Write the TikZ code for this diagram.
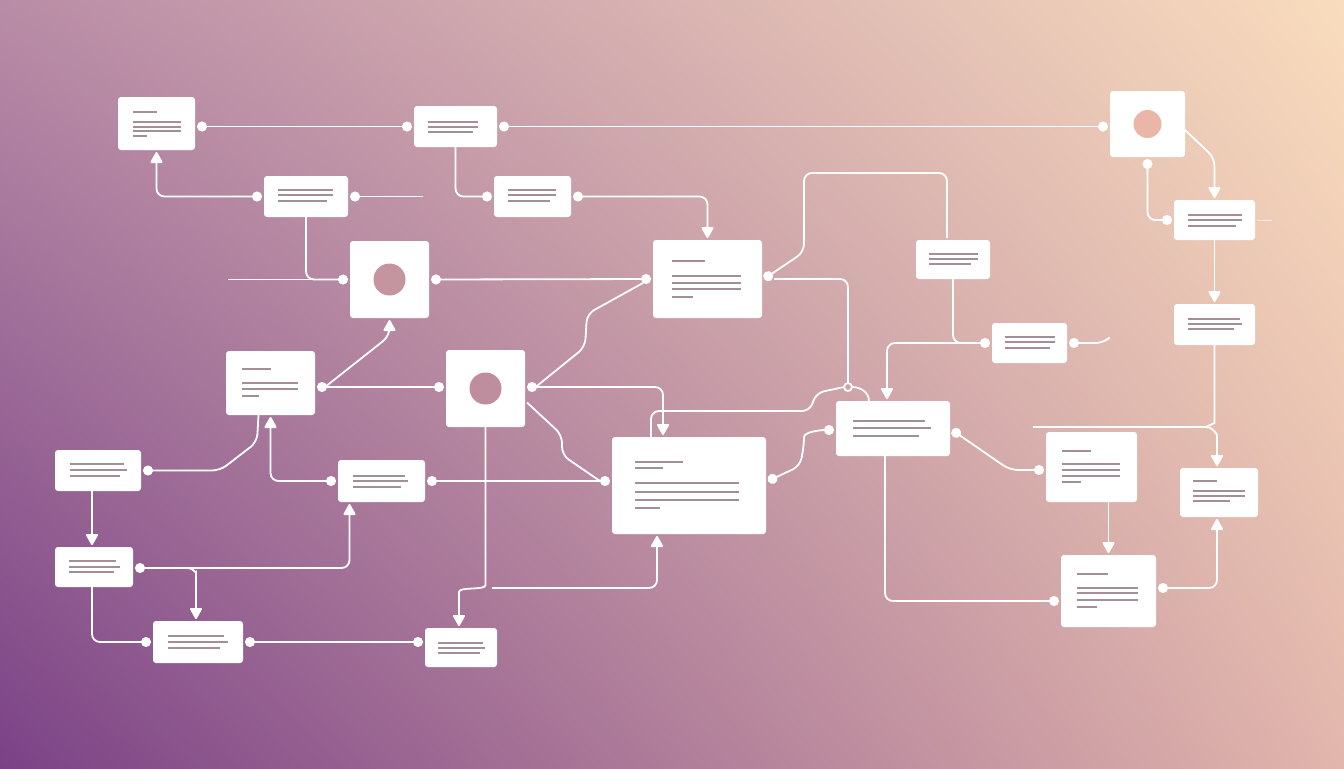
\documentclass[tikz,border=0pt]{standalone}
\usetikzlibrary{arrows.meta,calc,shadings}
\definecolor{bgUL}{HTML}{B98CA6}
\definecolor{bgUR}{HTML}{F9DCBD}
\definecolor{bgLL}{HTML}{7A4286}
\definecolor{bgLR}{HTML}{E2B6AC}
\definecolor{txl}{HTML}{A48F98}
\definecolor{holeE}{HTML}{C4949F}
\definecolor{holeM}{HTML}{BF8E9E}
\definecolor{holeG}{HTML}{E9B6A7}
\tikzset{
  box/.style={fill=white, draw=none, rounded corners=1.5pt, inner sep=0pt, outer sep=0pt},
  tl/.style={txl, line width=1pt},
  con/.style={white, line width=0.9pt, rounded corners=4pt},
  faint/.style={white, opacity=0.6, line width=0.5pt},
  dd/.style={{Circle[length=5pt]}-{Circle[length=5pt]}},
  ds/.style={{Circle[length=5pt]}-},
  de/.style={-{Circle[length=5pt]}},
  da/.style={{Circle[length=5pt]}-{Triangle[length=6pt,width=6.5pt,round]}},
  ea/.style={-{Triangle[length=6pt,width=6.5pt,round]}},
}
\newcommand\bx[5]{\node[box, minimum width={(#4-#2)*0.5pt}, minimum height={(#5-#3)*0.5pt}] (#1) at ({(#2+#4)/2},{(#3+#5)/2}) {};}
\newcommand\tln[3]{\draw[tl] (#1,#3) -- (#2,#3);}
\begin{document}
\begin{tikzpicture}[x=0.5pt,y=-0.5pt]
\useasboundingbox (0,0) rectangle (1344,768);
\shade[upper left=bgUL, upper right=bgUR, lower left=bgLL, lower right=bgLR] (0,0) rectangle (1344,768);

% ---------- boxes ----------
\bx{A}{118}{97}{195}{150}
\bx{B}{414}{106}{497}{147}
\bx{C}{264}{176}{348}{217}
\bx{D}{494}{176}{571}{217}
\bx{E}{350}{241}{429}{318}
\bx{F}{653}{240}{762}{318}
\bx{G}{1110}{91}{1185}{157}
\bx{H}{1174}{200}{1255}{240}
\bx{I}{916}{240}{990}{279}
\bx{J}{992}{323}{1067}{363}
\bx{K}{1174}{304}{1255}{345}
\bx{L}{226}{351}{315}{415}
\bx{M}{446}{350}{525}{427}
\bx{N}{836}{401}{950}{456}
\bx{O}{55}{450}{141}{491}
\bx{P}{338}{460}{425}{502}
\bx{Q}{612}{437}{766}{534}
\bx{R}{1046}{432}{1137}{502}
\bx{S}{1180}{468}{1258}{517}
\bx{T}{55}{547}{133}{587}
\bx{U}{153}{621}{243}{663}
\bx{V}{425}{628}{497}{667}
\bx{W}{1061}{555}{1156}{627}

% holes of the circle boxes
\fill[holeE] (E.center) circle (8pt);
\fill[holeM] (M.center) circle (8pt);
\fill[holeG] (G.center) circle (7pt);

% ---------- text placeholder lines ----------
\tln{133}{157}{112}\tln{133}{181}{122}\tln{133}{181}{127}\tln{133}{181}{131}\tln{133}{147}{136}
\tln{428}{478}{122}\tln{428}{478}{127}\tln{428}{473}{132}
\tln{278}{333}{190}\tln{278}{333}{195}\tln{278}{327}{201}
\tln{508}{556}{190}\tln{508}{556}{195}\tln{508}{550}{201}
\tln{672}{705}{261}\tln{672}{741}{276}\tln{672}{741}{283}\tln{672}{741}{289}\tln{672}{693}{297}
\tln{929}{978}{254}\tln{929}{978}{259}\tln{929}{971}{264}
\tln{1005}{1055}{337}\tln{1005}{1055}{342}\tln{1005}{1050}{348}
\tln{1188}{1242}{215}\tln{1188}{1242}{220}\tln{1188}{1236}{226}
\tln{1188}{1240}{319}\tln{1188}{1242}{324}\tln{1188}{1234}{329}
\tln{242}{271}{369}\tln{242}{298}{383}\tln{242}{298}{389}\tln{242}{259}{396}
\tln{70}{124}{464}\tln{70}{127}{470}\tln{70}{120}{476}
\tln{353}{405}{476}\tln{353}{408}{481}\tln{353}{401}{487}
\tln{69}{116}{561}\tln{69}{120}{567}\tln{69}{114}{572}
\tln{168}{224}{636}\tln{168}{228}{642}\tln{168}{220}{648}
\tln{438}{483}{643}\tln{438}{485}{648}\tln{438}{480}{653}
\tln{635}{683}{462}\tln{635}{663}{468}\tln{635}{739}{483}\tln{635}{739}{492}\tln{635}{739}{500}\tln{635}{660}{508}
\tln{853}{925}{421}\tln{853}{931}{428}\tln{853}{919}{436}
\tln{1062}{1091}{451}\tln{1062}{1120}{464}\tln{1062}{1120}{470}\tln{1062}{1120}{476}\tln{1062}{1081}{482}
\tln{1193}{1217}{481}\tln{1193}{1245}{491}\tln{1193}{1245}{496}\tln{1193}{1230}{501}
\tln{1077}{1108}{574}\tln{1077}{1138}{588}\tln{1077}{1138}{593}\tln{1077}{1138}{600}\tln{1077}{1097}{607}

% ---------- free ends ----------
\coordinate (c0) at (423,196.5);
\coordinate (e0) at (228,279.5);
\coordinate (q0) at (492,588);
\coordinate (k0) at (1033,427);
\coordinate (j0) at (1107,340);
\coordinate (h0) at (1272,220);
\coordinate (jn) at (848,387);

% ---------- connectors ----------
\draw[con,dd] ($(A.east|-B.west)+(2,0)$) -- ($(B.west)+(-2,0)$);
\draw[con,dd] ($(B.east)+(2,0)$) -- ($(G.west|-B.east)+(-2,0)$);
\draw[con,da] ($(C.west)+(-2,0)$) -| ($(A.south)+(0,2)$);
\draw[con,ds] ($(C.east)+(2,0)$) -- (c0);
\draw[con,de] (C.south) |- ($(E.west)+(-2,0)$);
\draw[con] (e0) -- ($(E.west)+(-12,0)$);
\draw[con,de] (B.south) |- ($(D.west)+(-2,0)$);
\draw[con,da] ($(D.east)+(2,0)$) -| ($(F.north)+(0,-2)$);
\draw[con,dd] ($(E.east)+(2,0)$) -- ($(F.west)+(-2,0)$);
\draw[con] ($(M.east)+(10,-1)$) -- (585,347) -- (587,314) -- ($(F.west)+(-10,4)$);
\draw[con,ds] ($(F.east)+(2,0)$) -- (804,252) -- (804,173) -| ($(I.north)+(-6,-2)$);
\draw[con] ($(F.east)+(12,0)$) -| ($(jn)+(0,-4)$);
\draw[white, line width=0.9pt] (jn) circle (2pt);
\draw[con] ($(jn)+(4,0)$) to[out=0,in=90] ($(N.north west)+(33,0)$);
\draw[con] ($(Q.north west)+(39,0)$) |- (810,411) -- (816,393) -- ($(jn)+(-4,0)$);
\draw[con,da] ($(M.east)+(2,-1.5)$) -| ($(Q.north west)+(51,-2)$);
\draw[con] ($(M.east)+(2,14)$) -- (562,435) -- (562,455) -- ($(Q.west)+(-12,-4.5)$);
\draw[con,dd] ($(P.east)+(2,0)$) -- ($(Q.west)+(-2,-4.5)$);
\draw[con,ea] (M.south) -- ($(M.south)+(0,150)$) to[out=-90,in=90] ($(V.north)+(-2,-28)$) -- ($(V.north)+(-2,-2)$);
\draw[con,ea] (q0) -| ($(Q.south west)+(45,2)$);
\draw[con,dd] ($(Q.east)+(2,-4.5)$) -- (800,466) -- (804,445) to[out=90,in=180] ($(N.west)+(-2,1.5)$);
\draw[con,dd] ($(N.east)+(2,1.5)$) -- (1010,470) -- ($(R.west)+(-2,3)$);
\draw[con,de] ($(N.south)+(-8,0)$) |- ($(W.west)+(-2,10)$);
\draw[con,ea] (W.north|-R.south) -- ($(W.north)+(0,-2)$);
\draw[con,da] ($(W.east)+(2,-3)$) -| ($(S.south)+(-2,2)$);
\draw[con] (K.south) -- ($(K.south)+(0,70)$) to[out=-90,in=0] (1198,427) -- (k0);
\draw[con,ea] (1206,427) to[out=0,in=90] (1217,443) -- ($(S.north)+(-2,-2)$);
\draw[con,dd] ($(G.south)+(0,2)$) |- ($(H.west)+(-2,0)$);
\draw[con,ea] ($(G.east)+(0,6)$) -- (1214.5,158) -- ($(H.north)+(0,-2)$);
\draw[faint] ($(H.east)+(2,0)$) -- (h0);
\draw[con,ea] (H.south) -- ($(K.north)+(0,-2)$);
\draw[con,de] (I.south) |- ($(J.west)+(-2,0)$);
\draw[con,ea] ($(J.west)+(-8,0)$) -| ($(N.north west)+(51,-2)$);
\draw[con,ds] ($(J.east)+(2,0)$) -- (1104,343) -- (j0);
\draw[con,ea] ($(L.east)+(10,4)$) -- (389.5,336) -- ($(E.south)+(0,2)$);
\draw[con,dd] ($(L.east)+(2,4)$) -- ($(M.west)+(-2,-1.5)$);
\draw[con,ds] ($(O.east)+(2,0)$) -- (220,470.5) -- (257,442) -- ($(L.south)+(-12,0)$);
\draw[con,da] ($(P.west)+(-2,0)$) -| ($(L.south)+(0,2)$);
\draw[con,ea] ($(O.south)+(-6,0)$) -- ($(T.north)+(-2,-2)$);
\draw[con,da] ($(T.east)+(2,1)$) -| ($(P.south)+(-32,2)$);
\draw[con,ea] (188,568) to[out=0,in=90] (196,580) -- ($(U.north)+(-2,-2)$);
\draw[con,de] ($(T.south)+(-2,0)$) |- ($(U.west)+(-2,0)$);
\draw[con,dd] ($(U.east)+(2,0)$) -- ($(V.west|-U.east)+(-2,0)$);
\end{tikzpicture}
\end{document}
